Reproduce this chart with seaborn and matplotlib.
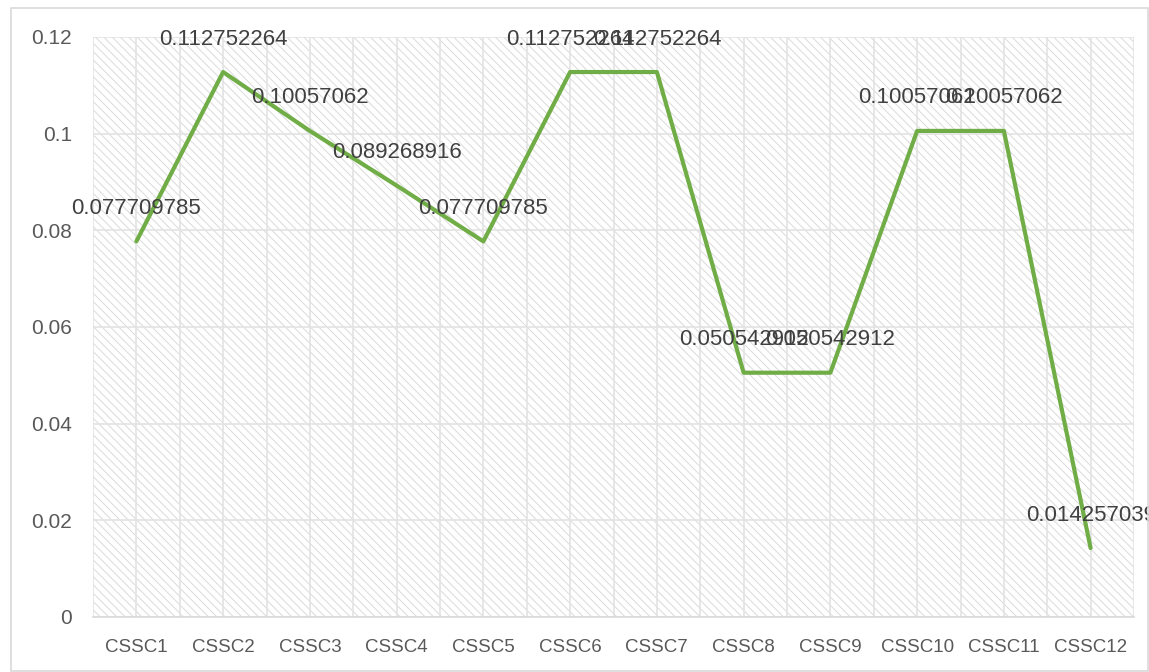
import matplotlib
matplotlib.use("Agg")
import matplotlib.pyplot as plt
import seaborn as sns
import pandas as pd
from matplotlib.patches import Rectangle
from matplotlib.ticker import MultipleLocator

categories = ["CSSC1", "CSSC2", "CSSC3", "CSSC4", "CSSC5", "CSSC6",
              "CSSC7", "CSSC8", "CSSC9", "CSSC10", "CSSC11", "CSSC12"]
values = [0.077709785, 0.112752264, 0.10057062, 0.089268916, 0.077709785, 0.112752264,
          0.112752264, 0.050542912, 0.050542912, 0.10057062, 0.10057062, 0.014257039]
label_texts = ["0.077709785", "0.112752264", "0.10057062", "0.089268916", "0.077709785",
               "0.112752264", "0.112752264", "0.050542912", "0.050542912", "0.10057062",
               "0.10057062", "0.014257039"]
y_ticks = [0, 0.02, 0.04, 0.06, 0.08, 0.1, 0.12]
y_tick_labels = ["0", "0.02", "0.04", "0.06", "0.08", "0.1", "0.12"]

df = pd.DataFrame({"cat": categories, "val": values})
df["pos"] = range(len(df))

sns.set_theme(style="white")
plt.rcParams["font.family"] = ["Liberation Sans", "DejaVu Sans"]
plt.rcParams["hatch.color"] = "#dadada"
plt.rcParams["hatch.linewidth"] = 0.7

fig = plt.figure(figsize=(11.49, 6.72), dpi=100)
ax = fig.add_axes([93 / 1149, 1 - 617 / 672, (1134 - 93) / 1149, (617 - 37) / 672])

# hatched plot area
ax.patch.set_facecolor("white")
ax.add_patch(Rectangle((0, 0), 1, 1, transform=ax.transAxes, facecolor="white",
                       edgecolor="#dadada", linewidth=0, hatch="\\\\\\\\", zorder=0))

sns.lineplot(data=df, x="pos", y="val", ax=ax, color="#70ad47", linewidth=3,
             zorder=3, legend=False)

for x, y, t in zip(df["pos"], df["val"], label_texts):
    ax.annotate(t, (x, y), xytext=(0, 33), textcoords="offset pixels",
                ha="center", va="center", fontsize=16, color="#404040",
                annotation_clip=False, zorder=4)

ax.set_xlim(-0.5, len(categories) - 0.5)
ax.set_ylim(0, 0.12)
ax.set_xticks(range(len(categories)))
ax.set_xticklabels(categories)
ax.xaxis.set_minor_locator(MultipleLocator(1, offset=0.5))
ax.set_yticks(y_ticks)
ax.set_yticklabels(y_tick_labels)
ax.grid(True, which="both", axis="x", color="#e3e3e3", linewidth=1.2, zorder=1)
ax.grid(True, which="major", axis="y", color="#e3e3e3", linewidth=1.2, zorder=1)
ax.set_axisbelow(True)
ax.tick_params(axis="both", which="both", length=0, colors="#595959")
ax.tick_params(axis="x", pad=16, labelsize=13.5)
ax.tick_params(axis="y", pad=15, labelsize=15)
ax.set_xlabel("")
ax.set_ylabel("")
for s in ["top", "right", "left"]:
    ax.spines[s].set_visible(False)
ax.spines["bottom"].set_color("#d9d9d9")
ax.spines["bottom"].set_linewidth(1.2)

# chart border
fig.patches.append(Rectangle((11 / 1149, 1 / 672), 1 - 12 / 1149, 1 - 9 / 672,
                             transform=fig.transFigure, fill=False,
                             edgecolor="#d9d9d9", linewidth=1.2))

fig.savefig("out.png", dpi=100)
